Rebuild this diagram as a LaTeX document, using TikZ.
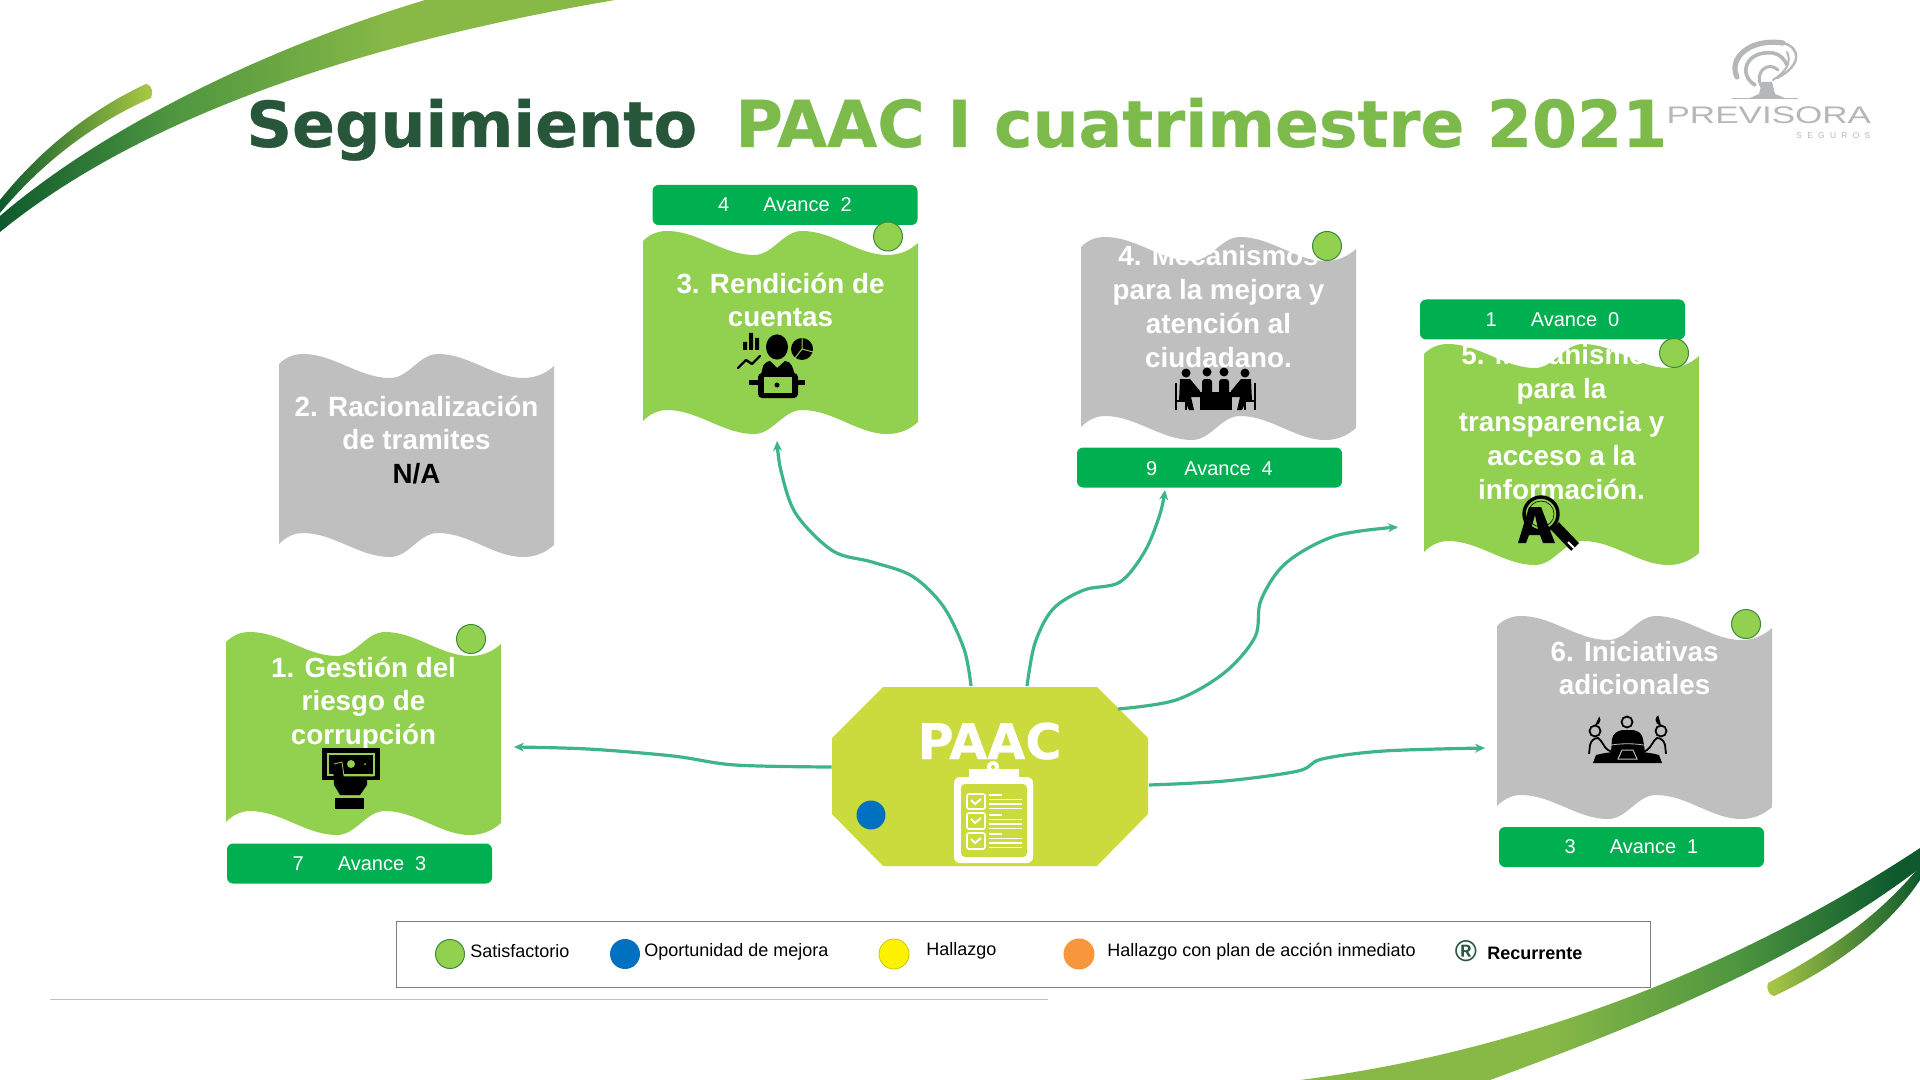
\documentclass[tikz,border=0pt]{standalone}
\usepackage{fontspec}
\setmainfont{Liberation Sans}
\newfontfamily\titlef[BoldFeatures={FakeBold=0.5}]{DejaVu Sans}
\newfontfamily\logosmall[LetterSpace=63]{Liberation Sans}
\usetikzlibrary{arrows.meta}
\definecolor{cardgreen}{HTML}{92D050}
\definecolor{cardgrey}{HTML}{BFBFBF}
\definecolor{bannergreen}{HTML}{00B050}
\definecolor{titledark}{HTML}{27563B}
\definecolor{titlegreen}{HTML}{7CBB4B}
\definecolor{paacfill}{HTML}{CBDB3D}
\definecolor{conncol}{HTML}{3EB489}
\definecolor{circedge}{HTML}{3F8A3A}
\definecolor{logogrey}{HTML}{B5B7B8}
\definecolor{swdark}{HTML}{0E5A2D}
\definecolor{swmid}{HTML}{4F9640}
\definecolor{swlight}{HTML}{88B947}
\definecolor{swtip}{HTML}{ABC945}
\pgfdeclarehorizontalshading{swooshA}{100bp}{color(0bp)=(swdark); color(25bp)=(swdark); color(39bp)=(swmid); color(57bp)=(swlight); color(100bp)=(swlight)}
\pgfdeclarehorizontalshading{swooshB}{100bp}{color(0bp)=(swlight); color(45bp)=(swlight); color(60bp)=(swmid); color(73bp)=(swdark); color(100bp)=(swdark)}
\tikzset{
  cardtext/.style={text=white,align=center,inner sep=0pt,font=\bfseries\fontsize{13.9}{16.9}\selectfont},
  banner/.style={fill=bannergreen,rounded corners=3pt,minimum width=132.5pt,minimum height=20pt,inner sep=0pt,text=white,font=\fontsize{10}{12}\selectfont},
  statusdot/.style={fill=cardgreen,draw=circedge,line width=.5pt},
  conn/.style={draw=conncol,line width=1.6pt,-{Stealth[length=5pt,width=4.5pt]}},
  legtext/.style={anchor=west,inner sep=0pt,text=black,font=\fontsize{9}{11}\selectfont},
  clipbar/.style={draw=white,line width=.8pt},
  logostroke/.style={draw=logogrey,line cap=round},
}
\newcommand{\wavecard}[4]{% x0, ytop, extra height, colour
  \fill[#4,shift={(#1,#2)}] (0,10) .. controls (7,3) and (15,0) .. (24,0)
    .. controls (55,0) and (80,24) .. (111,24)
    .. controls (130,24) and (140,0) .. (159,0)
    .. controls (190,0) and (215,24) .. (244,24)
    .. controls (256,24) and (266,20) .. (275,12)
    -- (275,191+#3) .. controls (266,199+#3) and (256,203+#3) .. (244,203+#3)
    .. controls (215,203+#3) and (190,179+#3) .. (159,179+#3)
    .. controls (140,179+#3) and (130,203+#3) .. (111,203+#3)
    .. controls (80,203+#3) and (55,179+#3) .. (24,179+#3)
    .. controls (15,179+#3) and (7,183+#3) .. (0,190+#3) -- cycle;
}
\begin{document}
\begin{tikzpicture}[x=0.5pt,y=-0.5pt]
\useasboundingbox (0,0) rectangle (1920,1080);
\fill[white] (0,0) rectangle (1920,1080);

% swooshes top-left
\shade[shading=swooshA]
 (0,232) .. controls (150,110) and (380,40) .. (615,0) -- (425,0) .. controls (260,50) and (100,130) .. (0,216) -- cycle;
\shade[left color=swdark,middle color=swmid,right color=swtip]
 (0,213) .. controls (40,165) and (90,125) .. (151,98) .. controls (153,92) and (153,86) .. (146,84)
 .. controls (90,110) and (40,150) .. (0,200) -- cycle;
% swooshes bottom-right
\shade[shading=swooshB]
 (1300,1080) .. controls (1500,1055) and (1720,980) .. (1920,848) -- (1920,868)
 .. controls (1800,960) and (1640,1025) .. (1490,1080) -- cycle;
\shade[left color=swtip,middle color=swmid,right color=swdark]
 (1774,996) .. controls (1840,965) and (1890,925) .. (1920,880) -- (1920,866)
 .. controls (1880,915) and (1830,950) .. (1768,983) .. controls (1766,990) and (1769,995) .. (1774,996) -- cycle;

% title
\node[anchor=base west,inner sep=0pt,text=titledark,font=\titlef\bfseries\fontsize{31.7}{36}\selectfont] (titleA) at (246,147) {Seguimiento};
\node[anchor=base west,inner sep=0pt,text=titlegreen,font=\titlef\bfseries\fontsize{32.4}{36}\selectfont] (titleB) at (735,147) {PAAC I cuatrimestre 2021};

% logo
\fill[logogrey] (1762,82) -- (1772,82) -- (1775,94) -- (1785,98) -- (1750,98) -- (1759,94) -- cycle;
\draw[logostroke,line width=.4pt] (1732,98.5) -- (1798,98.5);
\draw[logostroke,line width=2.6pt] (1737,77) .. controls (1728,58) and (1750,38) .. (1783,43);
\draw[logostroke,line width=1.8pt] (1755,85) .. controls (1738,75) and (1745,50) .. (1773,53) .. controls (1780,54) and (1785,60) .. (1787,65);
\draw[logostroke,line width=1.5pt] (1762,87) .. controls (1753,73) and (1768,60) .. (1778,70);
\draw[logostroke,line width=1.2pt] (1783,43) .. controls (1800,47) and (1803,65) .. (1777,78);
\draw[logostroke,line width=1pt] (1787,52) .. controls (1792,62) and (1786,72) .. (1773,80);
\node[anchor=base west,inner sep=0pt,text=logogrey,xscale=1.46,font=\fontsize{12}{14}\selectfont] (logoA) at (1666,124) {PREVISORA};
\node[anchor=base west,inner sep=0pt,text=logogrey,font=\logosmall\fontsize{4.2}{5}\selectfont] (logoB) at (1796,139) {SEGUROS};

% cards
\wavecard{226}{632}{0}{cardgreen}
\wavecard{279}{354}{0}{cardgrey}
\wavecard{643}{231}{0}{cardgreen}
\wavecard{1081}{237}{0}{cardgrey}
\wavecard{1424}{344}{18}{cardgreen}
\wavecard{1497}{616}{0}{cardgrey}

\node[cardtext] (c1) at (363.5,703.5) {1. Gestión del\\riesgo de\\corrupción};
\node[cardtext] (c2) at (416.5,440) {2. Racionalización\\de tramites\\{\color{black}N/A}};
\node[cardtext] (c3) at (780.5,300) {3. Rendición de\\cuentas};
\node[cardtext] (c4) at (1218.5,306.5) {4. Mecanismos\\para la mejora y\\atención al\\ciudadano.};
\node[cardtext] (c5) at (1561.5,422) {5. Mecanismos\\para la\\transparencia y\\acceso a la\\información.};
\node[cardtext] (c6) at (1634.5,668) {6. Iniciativas\\adicionales};

% icons: card 3
\fill[black] (777,347) ellipse (11 and 12.6);
\fill[black] (743,342) rectangle (747,350) (749,333) rectangle (753,350) (755,338) rectangle (759,350);
\fill[black] (802,349) circle (11);
\draw[cardgreen,line width=.5pt] (802,349) -- (802,338) (802,349) -- (813,352) (802,349) -- (795,358);
\draw[black,line width=1.2pt,line cap=round,line join=round] (738,368) -- (746,360) -- (752,364) -- (760,356);
\fill[black] (761,375) -- (763,366) .. controls (765,363) and (768,361) .. (770,361) -- (777,368) -- (785,361) .. controls (788,361) and (791,363) .. (792,366) -- (795,375) -- cycle;
\fill[black] (749,380) rectangle (805,385);
\fill[black,rounded corners=2pt] (758,373) rectangle (798,398);
\fill[cardgreen] (764,377) rectangle (792,393);
\fill[black] (777,385) circle (2.5);

% icons: card 4
\fill[black] (1186,373) circle (4.5) (1207,372) circle (4.5) (1224,372) circle (4.5) (1245,373) circle (4.5);
\fill[black,rounded corners=1.5pt] (1202,379) rectangle (1212,396) (1219,379) rectangle (1229,396);
\fill[black] (1200,392) rectangle (1232,410);
\fill[black] (1180,379) -- (1190,379) -- (1200,391) -- (1200,397) -- (1191,397) -- (1194,410) -- (1189,410) -- (1185,401) -- (1179,401) -- cycle;
\fill[black] (1251,379) -- (1241,379) -- (1231,391) -- (1231,397) -- (1240,397) -- (1237,410) -- (1242,410) -- (1246,401) -- (1252,401) -- cycle;
\draw[black,line width=.7pt] (1176,383) -- (1176,410) (1176,401) -- (1186,401) -- (1186,410) (1255,383) -- (1255,410) (1255,401) -- (1245,401) -- (1245,410);

% icons: card 5
\draw[black,line width=1.7pt] (1541,514) circle (17);
\draw[black,line width=.3pt] (1541,514) circle (13);
\fill[black,even odd rule] (1529,507) -- (1541,507) -- (1555,543) -- (1543,543) -- (1540,535) -- (1529,535) -- (1526,543) -- (1518,543) -- cycle (1535,515) -- (1538,529) -- (1531,529) -- cycle;
\draw[black,line width=5.5pt] (1555,526) -- (1575,547);
\draw[white,line width=1pt] (1568,542) -- (1574,548);

% icons: card 1
\fill[black] (322,748) rectangle (380,780);
\draw[cardgreen,line width=.7pt] (328,754) rectangle (374,775);
\fill[cardgreen] (351,764) circle (4) (365,764) circle (1);
\fill[black] (333,765) -- (342,762) -- (344,776) -- (367,776) -- (367,785) -- (360,795) -- (340,795) -- (334,785) -- cycle;
\draw[cardgreen,line width=.4pt] (334,764) -- (342,762) -- (344,776) -- (374,776);
\fill[black] (335,798) rectangle (364,809);

% icons: card 6
\draw[black,line width=.9pt,fill=cardgrey] (1627,722) circle (5.5);
\draw[black,line width=.9pt,fill=cardgrey] (1595,731) circle (5.5);
\fill[black] (1595,725.5) arc[start angle=90,end angle=-40,radius=5.5] -- cycle;
\draw[black,line width=.9pt,fill=cardgrey] (1661,731) circle (5.5);
\fill[black] (1661,725.5) arc[start angle=90,end angle=240,radius=5.5] -- cycle;
\fill[black] (1611,752) -- (1612,739) .. controls (1613,733) and (1618,731) .. (1622,730) -- (1633,730) .. controls (1638,731) and (1642,733) .. (1643,739) -- (1645,752) -- cycle;
\draw[black,line width=.9pt,line join=round] (1589,754) -- (1590,745) .. controls (1591,740) and (1595,738) .. (1598,738) .. controls (1602,740) and (1604,748) .. (1608,750) -- (1612,752);
\draw[black,line width=.9pt,line join=round] (1666,754) -- (1665,745) .. controls (1664,740) and (1660,738) .. (1657,738) .. controls (1653,740) and (1651,748) .. (1647,750) -- (1643,752);
\fill[black] (1593,763) -- (1596,755) .. controls (1615,750) and (1640,750) .. (1659,755) -- (1662,763) -- cycle;
\draw[cardgrey,line width=.5pt] (1622,750) -- (1633,750) -- (1637,759) -- (1618,759) -- cycle;
\draw[cardgrey,line width=.4pt] (1606,746) .. controls (1620,743) and (1635,743) .. (1649,746);

% central node
\fill[paacfill] (883,687) -- (1097,687) -- (1148,738) -- (1148,814) -- (1097,866) -- (883,866) -- (832,814) -- (832,738) -- cycle;
\node[minimum width=158pt,minimum height=89.5pt,inner sep=0pt] (paac) at (990,776.5) {};
\node[inner sep=0pt,text=white,anchor=base,font=\titlef\bfseries\fontsize{24.6}{28}\selectfont] (paactxt) at (989.5,759) {PAAC};
\fill[white] (993,767) circle (6);
\fill[paacfill] (993,767) circle (2);
\fill[white] (969,769) rectangle (1019,778);
\fill[white,rounded corners=3pt] (954,777) rectangle (1033,863);
\fill[paacfill,rounded corners=2pt] (961,784) rectangle (1027,857);
\draw[white,line width=.8pt,rounded corners=1pt] (967,794) rectangle (985,809) (967,813) rectangle (985,829) (967,833) rectangle (985,849);
\draw[white,line width=1pt] (971,800) -- (975,804) -- (981,799) (971,819) -- (975,823) -- (981,818) (971,839) -- (975,843) -- (981,838);
\draw[clipbar] (989,795) -- (1002,795) (989,799.5) -- (1022,799.5) (989,804) -- (1022,804) (989,808.5) -- (1022,808.5)
  (989,815) -- (1002,815) (989,819.5) -- (1022,819.5) (989,824) -- (1022,824) (989,828.5) -- (1022,828.5)
  (989,834) -- (1002,834) (989,838.5) -- (1022,838.5) (989,843) -- (1022,843) (989,847.5) -- (1022,847.5);
\fill[fill={rgb,255:red,0;green,112;blue,192}] (871,815) circle (14.5);

% connector ends
\coordinate (fromW) at (paac.west |- 0,767);
\coordinate (toC1) at (514,747);
\coordinate (fromNa) at (971,686);
\coordinate (toC3) at (777,441);
\coordinate (fromNb) at (1027,686);
\coordinate (toC4) at (1165,490);
\coordinate (fromNE) at (1118,709);
\coordinate (toC5) at (1398,527);
\coordinate (fromE) at (1149,785);
\coordinate (toC6) at (1485,748);

\draw[conn] plot[smooth,tension=.55] coordinates {(fromW) (735,765) (673,756) (588,749) (toC1)};
\draw[conn] plot[smooth,tension=.55] coordinates {(fromNa) (964,649) (943,606) (912,576) (872,562) (833,551) (796,514) (781,471) (toC3)};
\draw[conn] plot[smooth,tension=.55] coordinates {(fromNb) (1035,643) (1053,609) (1084,590) (1120,582) (1145,551) (1160,514) (toC4)};
\draw[conn] plot[smooth,tension=.55] coordinates {(fromNE) (1176,700) (1224,673) (1255,637) (1261,600) (1286,563) (1335,536) (toC5)};
\draw[conn] plot[smooth,tension=.55] coordinates {(fromE) (1225,781) (1298,771) (1322,759) (1384,751) (toC6)};

% banners
\node[banner] (b1) at (359.5,863.5) {7\hspace{17pt}Avance\hspace{5.5pt}3};
\node[banner] (b3) at (785,205) {4\hspace{17pt}Avance\hspace{5.5pt}2};
\node[banner] (b4) at (1209.5,467.5) {\raisebox{-4.2pt}[0pt][0pt]{9\hspace{13.5pt}Avance\hspace{5.5pt}4}};
\node[banner] (b5) at (1552.5,319.5) {1\hspace{17pt}Avance\hspace{5.5pt}0};
\node[banner] (b6) at (1631.5,847) {3\hspace{17pt}Avance\hspace{5.5pt}1};

% status dots
\filldraw[statusdot] (471,639) circle (14.5);
\filldraw[statusdot] (888,236.5) circle (14.5);
\filldraw[statusdot] (1327,246) circle (14.5);
\filldraw[statusdot] (1674,353) circle (14.5);
\filldraw[statusdot] (1746,624) circle (14.5);

% legend
\draw[draw={rgb,255:red,127;green,127;blue,127},line width=.4pt] (396,921) rectangle (1650,987);
\filldraw[statusdot] (450,954) circle (14.5);
\fill[fill={rgb,255:red,0;green,112;blue,192}] (625,954) circle (15);
\filldraw[fill=yellow,draw={rgb,255:red,200;green,200;blue,0},line width=.4pt] (894,954) circle (15);
\fill[fill={rgb,255:red,247;green,150;blue,60}] (1079,954) circle (15.5);
\node[legtext] (l1) at (470,951) {Satisfactorio};
\node[legtext] (l2) at (644,952) {Oportunidad de mejora};
\node[legtext] (l3) at (926,951) {Hallazgo};
\node[legtext] (l4) at (1107,952) {Hallazgo con plan de acción inmediato};
\node[inner sep=0pt,text=titledark,font=\bfseries\fontsize{15}{17}\selectfont] (l5a) at (1466,951) {®};
\node[legtext,font=\bfseries\fontsize{9}{11}\selectfont] (l5) at (1487,953.5) {Recurrente};

% footer rule
\draw[cardgrey,line width=.5pt] (50,999.5) -- (1048,999.5);
\end{tikzpicture}
\end{document}
